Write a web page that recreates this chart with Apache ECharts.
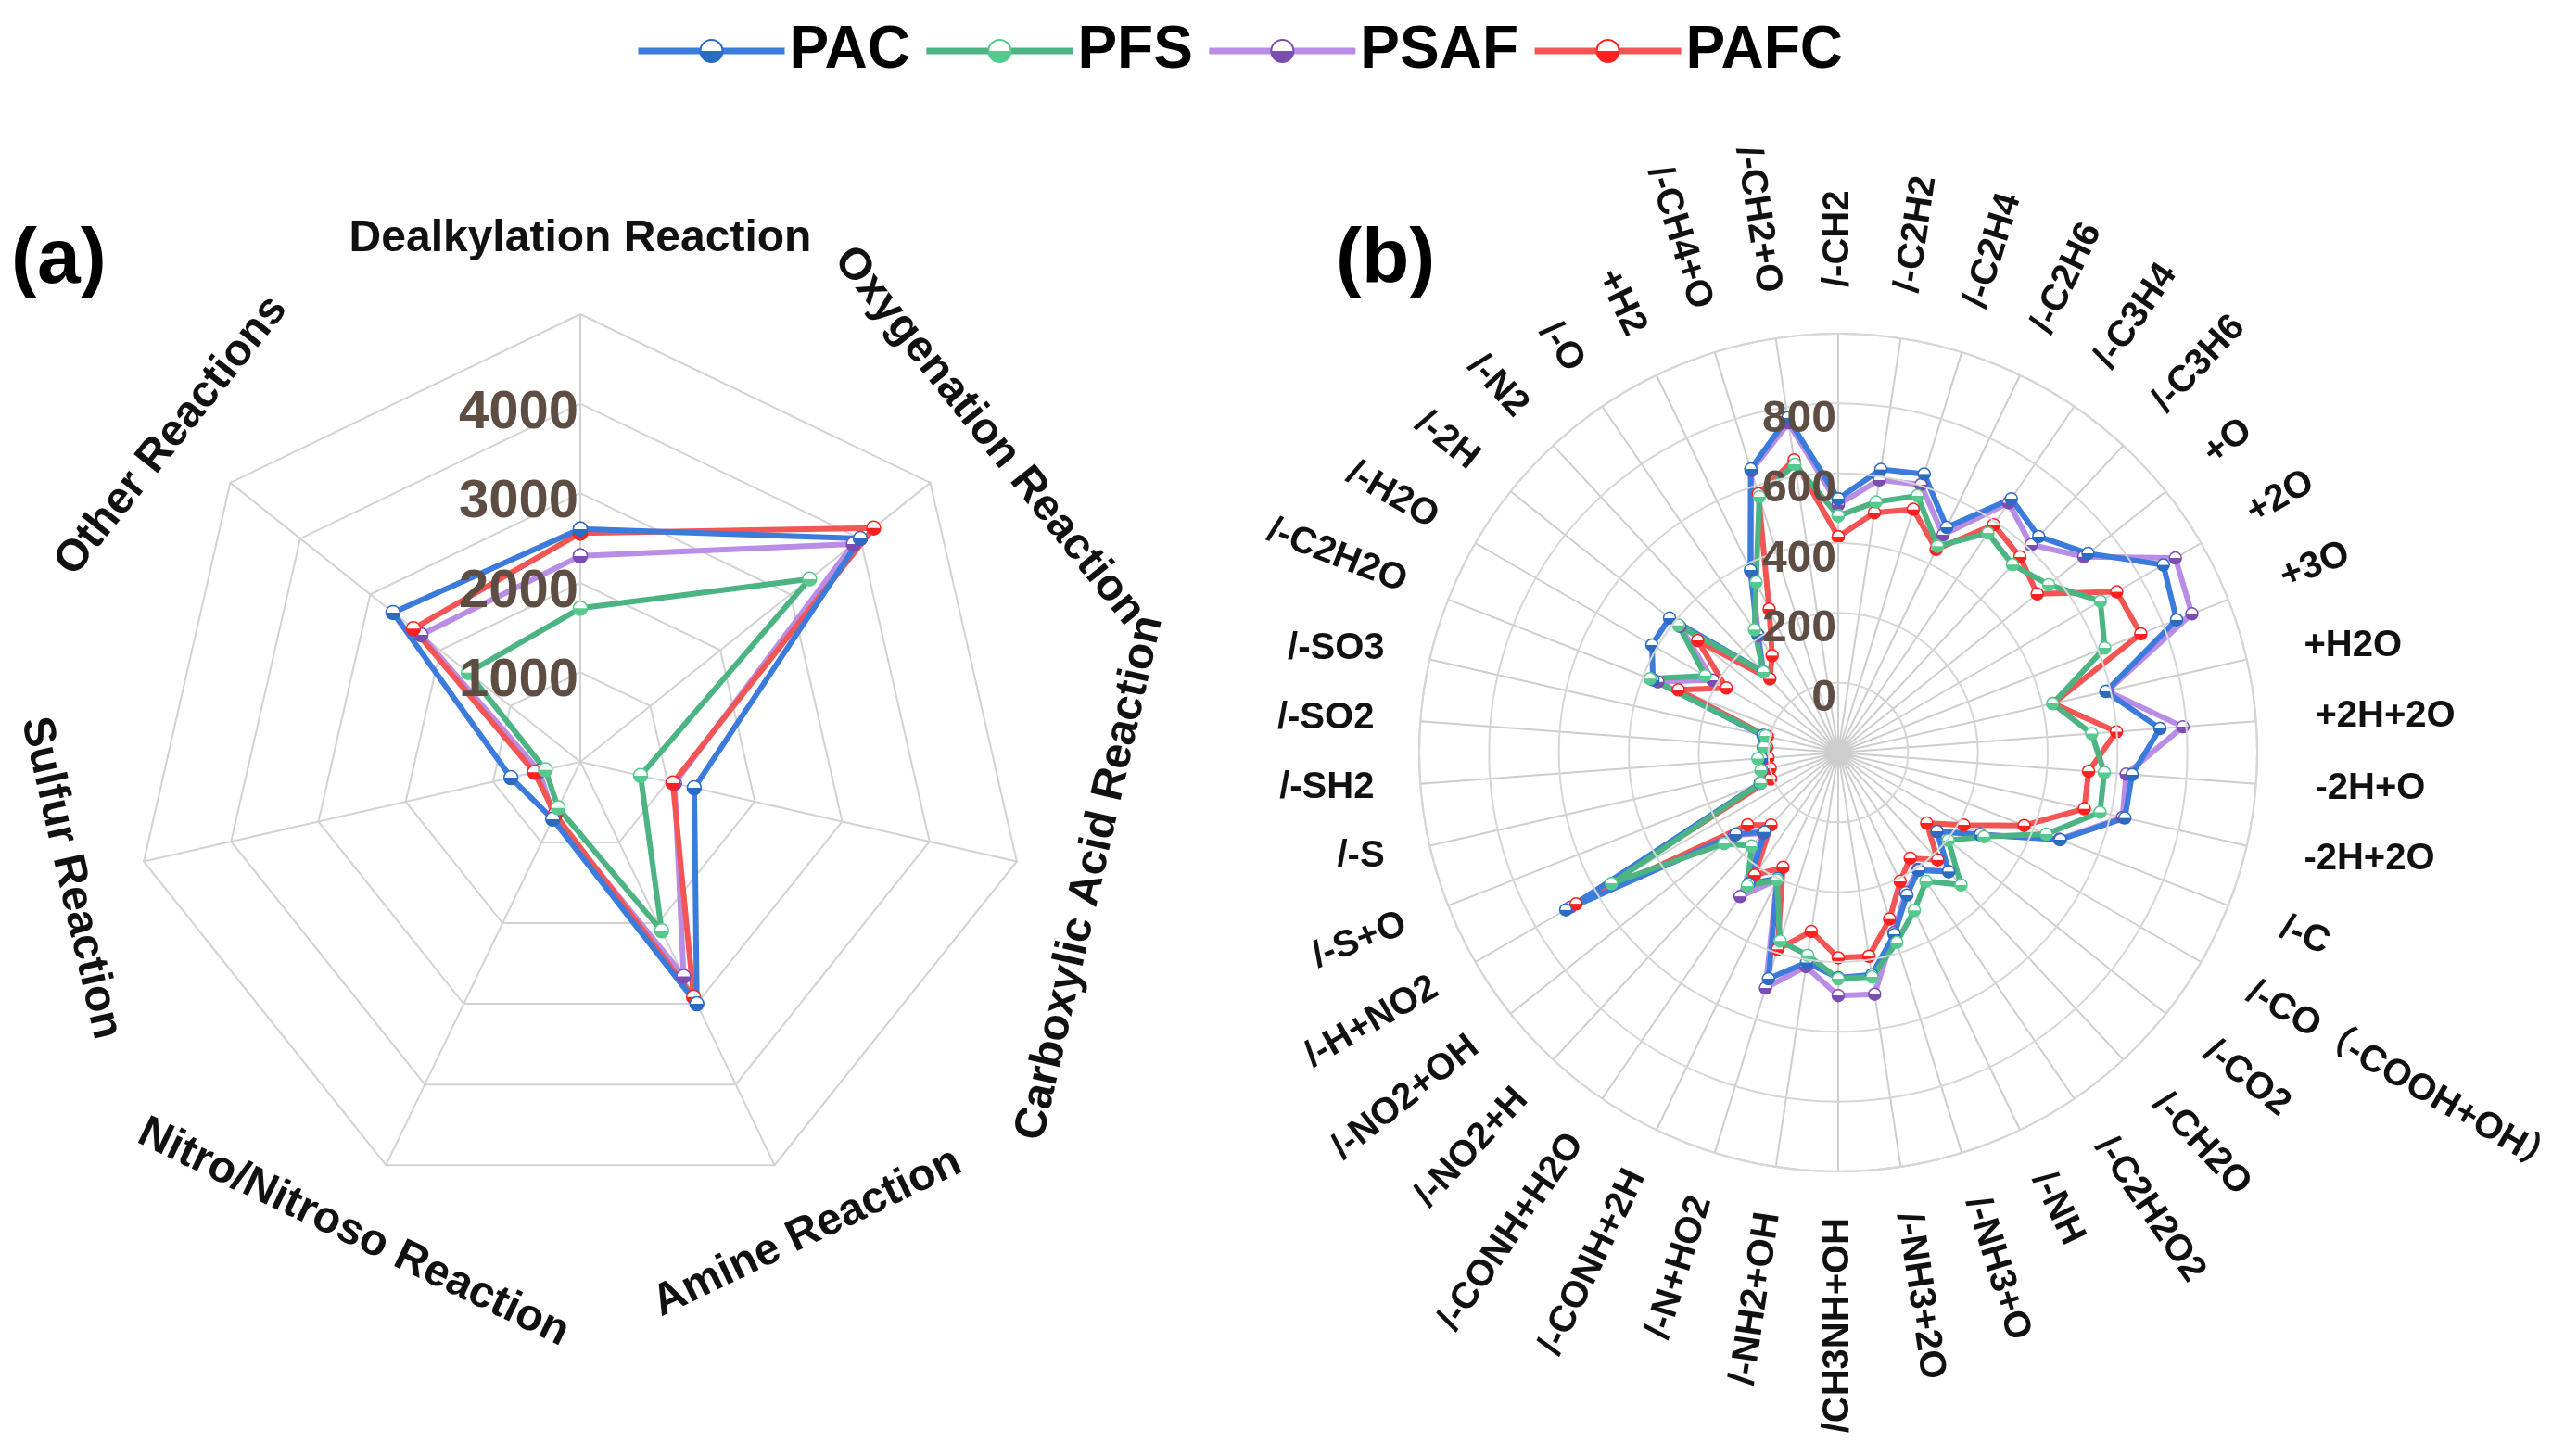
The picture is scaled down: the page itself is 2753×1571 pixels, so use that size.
<!DOCTYPE html>
<html><head><meta charset="utf-8">
<script src="https://cdn.jsdelivr.net/npm/echarts@6/dist/echarts.min.js"></script>
<style>html,body{margin:0;padding:0;background:#fff}#c{width:2753px;height:1571px}</style>
</head><body><div id="c"></div>
<script>
// ---------- data ----------
const seriesNames = ['PAC', 'PFS', 'PSAF', 'PAFC'];

// panel (a): clockwise from top
const catA = ['Dealkylation Reaction', 'Oxygenation Reaction', 'Carboxylic Acid Reaction',
  'Amine Reaction', 'Nitro/Nitroso Reaction', 'Sulfur Reaction', 'Other Reactions'];
const aPAC  = [2600, 4000, 1305, 3000, 710, 795, 2675];
const aPFS  = [1715, 3275, 690, 2095, 570, 400, 1600];
const aPSAF = [2300, 3900, 1080, 2660, 680, 470, 2275];
const aPAFC = [2555, 4190, 1060, 2915, 650, 525, 2385];
const ticksA = [1000, 2000, 3000, 4000];

// panel (b): clockwise from top
const catB = ['/-CH2', '/-C2H2', '/-C2H4', '/-C2H6', '/-C3H4', '/-C3H6', '+O', '+2O', '+3O', '+H2O',
  '+2H+2O', '-2H+O', '-2H+2O', '/-C', '/-CO（-COOH+OH）', '/-CO2', '/-CH2O', '/-C2H2O2', '/-NH',
  '/-NH3+O', '/-NH3+2O', '/CH3NH+OH', '/-NH2+OH', '/-N+HO2', '/-CONH+2H', '/-CONH+H2O', '/-NO2+H',
  '/-NO2+OH', '/-H+NO2', '/-S+O', '/-S', '/-SH2', '/-SO2', '/-SO3', '/-C2H2O', '/-H2O', '/-2H',
  '/-N2', '/-O', '+H2', '/-CH4+O', '/-CH2+O'];
const bPAC  = [527, 620, 635, 516, 680, 644, 715, 875, 841, 586, 724, 644, 642, 483, 270, 162, 265, 208, 253,
  345, 444, 445, 408, 478, 200, 255, 110, 175, 701, 40, 25, 20, 15, 21, 370, 416, 418, 116, 211, 380, 650, 770];
const bPFS  = [478, 526, 570, 456, 561, 534, 571, 667, 620, 430, 528, 564, 569, 440, 282, 203, 317, 246, 302,
  369, 450, 448, 387, 365, 205, 262, 165, 218, 550, 38, 27, 31, 13, 14, 379, 240, 385, 115, 226, 342, 567, 635];
const bPSAF = [510, 590, 603, 492, 666, 612, 700, 915, 888, 590, 790, 627, 635, 480, 270, 162, 265, 205, 245,
  340, 500, 496, 420, 506, 205, 299, 115, 180, 685, 40, 25, 22, 15, 18, 355, 215, 380, 115, 205, 375, 645, 755];
const bPAFC = [418, 495, 529, 446, 590, 565, 529, 721, 731, 431, 599, 519, 523, 372, 215, 124, 219, 166, 209,
  299, 390, 388, 318, 390, 165, 225, 83, 132, 667, 8, 0, 2, 5, 8, 292, 170, 315, 88, 136, 256, 576, 648];
const ticksB = [0, 200, 400, 600, 800];

// ---------- styles ----------
const lineC = { PAC: '#3a7bdc', PFS: '#4cb382', PSAF: '#b98ce6', PAFC: '#f35454' };
const markC = { PAC: '#2a6cc2', PFS: '#56c98e', PSAF: '#7a4db3', PAFC: '#ff2020' };
const FONT = '"Liberation Sans", Arial, "Noto Sans CJK SC", sans-serif';
const chart = echarts.init(document.getElementById('c'), null, { renderer: 'canvas' });

function grad(n) {
  return new echarts.graphic.LinearGradient(0, 0, 0, 1, [
    { offset: 0, color: '#ffffff' }, { offset: 0.48, color: '#ffffff' },
    { offset: 0.52, color: markC[n] }, { offset: 1, color: markC[n] }]);
}
function lineSeries(name, vals, polarIndex, size, width) {
  const data = vals.map((v, i) => [v, i]);
  data.push([vals[0], vals.length]);
  return {
    type: 'line', name, coordinateSystem: 'polar', polarIndex, data,
    symbol: 'circle', symbolSize: size, showSymbol: true, clip: false,
    lineStyle: { color: lineC[name], width },
    itemStyle: { color: grad(name), borderColor: markC[name], borderWidth: 1.5 },
    emphasis: { disabled: true }, silent: true
  };
}
// category names placed just outside the outer ring, positioned through the polar scales
function labelSeries(polarIndex, cats, rMin, rMax, cfg) {
  const n = cats.length;
  return {
    type: 'custom', coordinateSystem: 'polar', polarIndex, silent: true, z: 10, clip: false,
    data: cats.map((c, i) => [rMax, i]),
    renderItem: function (params, api) {
      const i = api.value(1);
      const c = api.coord([rMin, i]);
      const o = api.coord([rMax, i]);
      const dx = o[0] - c[0], dy = o[1] - c[1];
      const len = Math.hypot(dx, dy);
      const ux = dx / len, uy = dy / len;
      const theta = i * 2 * Math.PI / n;
      const s = Math.max(0, Math.sin(theta));
      const gap = cfg.gap + cfg.gapSide * s * s;
      const x = o[0] + ux * gap, y = o[1] + uy * gap;
      const phi = Math.atan2(-dy, dx);
      let rot, align;
      if (cfg.mode === 'tangent') {
        rot = phi - Math.PI / 2;
        while (rot <= -Math.PI / 2 - 1e-6) rot += Math.PI;
        while (rot > Math.PI / 2 + 1e-6) rot -= Math.PI;
        align = 'center';
      } else {
        if (theta < Math.PI - 1e-6) { rot = phi; align = 'left'; }
        else { rot = phi + Math.PI; align = 'right'; }
        while (rot > Math.PI) rot -= 2 * Math.PI;
        while (rot <= -Math.PI) rot += 2 * Math.PI;
        if (Math.abs(rot) < 14 * Math.PI / 180) rot = 0;
      }
      return {
        type: 'text', x, y, rotation: rot,
        style: { text: cats[i], align, verticalAlign: 'middle', font: cfg.font, fill: '#111' }
      };
    }
  };
}
const tickLabel = (ticks, size, lh) => ({
  show: true, margin: 2, color: '#5e4d43', fontWeight: 'bold', fontSize: size, fontFamily: FONT,
  verticalAlign: 'top', lineHeight: lh,
  formatter: v => (ticks.indexOf(v) >= 0 ? String(v) : '')
});

const order = ['PSAF', 'PAFC', 'PAC', 'PFS'];
const aMap = { PAC: aPAC, PFS: aPFS, PSAF: aPSAF, PAFC: aPAFC };
const bMap = { PAC: bPAC, PFS: bPFS, PSAF: bPSAF, PAFC: bPAFC };

const option = {
  backgroundColor: '#ffffff',
  animation: false,
  legend: {
    data: seriesNames, left: 680, top: 18, itemWidth: 158, itemHeight: 30, itemGap: 14,
    lineStyle: { width: 7 },
    textStyle: { fontSize: 64, fontWeight: 'bold', color: '#000', fontFamily: FONT }
  },
  graphic: [
    { type: 'text', left: 12, top: 240, style: { text: '(a)', font: 'bold 84px ' + FONT, fill: '#000' } },
    { type: 'text', left: 1441, top: 240, style: { text: '(b)', font: 'bold 84px ' + FONT, fill: '#000' } }
  ],
  radar: {
    center: [626, 822], radius: 483, startAngle: 90, splitNumber: 5, shape: 'polygon',
    indicator: catA.map(() => ({ name: '', min: 0, max: 5000 })),
    axisName: { show: false },
    axisLine: { lineStyle: { color: '#d2d2d2', width: 2 } },
    splitLine: { lineStyle: { color: '#d2d2d2', width: 2 } },
    splitArea: { show: false }, axisTick: { show: false }, axisLabel: { show: false }
  },
  polar: [
    { center: [626, 822], radius: 483 },
    { center: [1983, 812], radius: 452 }
  ],
  angleAxis: [
    { polarIndex: 0, type: 'value', min: 0, max: catA.length, interval: 1, startAngle: 90, clockwise: true,
      axisLine: { show: false }, axisTick: { show: false }, axisLabel: { show: false }, splitLine: { show: false } },
    { polarIndex: 1, type: 'value', min: 0, max: catB.length, interval: 1, startAngle: 90, clockwise: true,
      axisLine: { show: true, lineStyle: { color: '#d2d2d2', width: 2 } }, axisTick: { show: false },
      axisLabel: { show: false }, splitLine: { show: true, lineStyle: { color: '#cdcdcd', width: 2 } } }
  ],
  radiusAxis: [
    { polarIndex: 0, type: 'value', min: 0, max: 5000, interval: 1000, z: 5,
      axisLine: { show: false }, axisTick: { show: false }, splitLine: { show: false },
      axisLabel: tickLabel(ticksA, 58, 20) },
    { polarIndex: 1, type: 'value', min: -200, max: 1000, interval: 200, z: 5,
      axisLine: { show: false }, axisTick: { show: false },
      splitLine: { show: true, lineStyle: { color: '#d6d6d6', width: 2 } },
      axisLabel: tickLabel(ticksB, 48, 35) }
  ],
  series: [].concat(
    order.map(n => lineSeries(n, aMap[n], 0, 15, 6)),
    order.map(n => lineSeries(n, bMap[n], 1, 13, 6)),
    [labelSeries(0, catA, 0, 5000, { gap: 81, gapSide: 0, mode: 'tangent', font: 'bold 48px ' + FONT }),
     labelSeries(1, catB, -200, 1000, { gap: 50, gapSide: 14, mode: 'radial', font: 'bold 40px ' + FONT })]
  )
};
chart.setOption(option);
</script></body></html>
